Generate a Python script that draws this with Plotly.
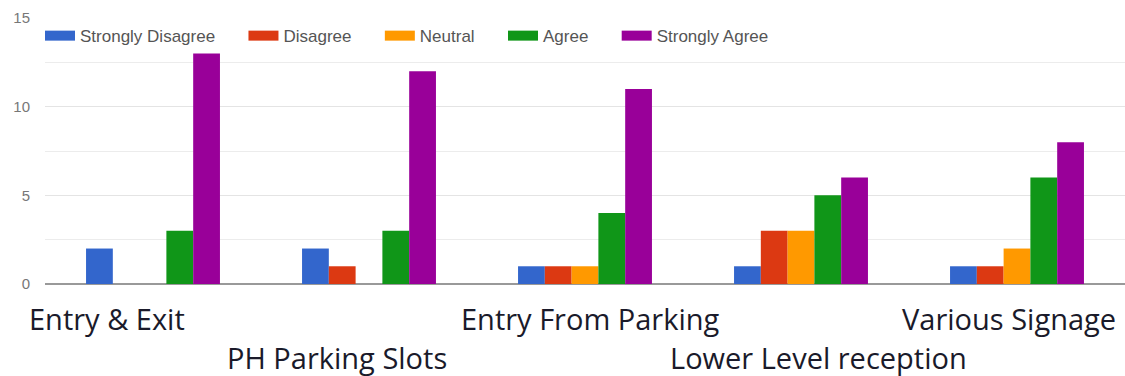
import plotly.graph_objects as go

categories = ["Entry & Exit", "PH Parking Slots", "Entry From Parking",
              "Lower Level reception", "Various Signage"]
series_names = ["Strongly Disagree", "Disagree", "Neutral", "Agree", "Strongly Agree"]
strongly_disagree = [2, 2, 1, 1, 1]
disagree = [0, 1, 1, 3, 1]
neutral = [0, 0, 1, 3, 2]
agree = [3, 3, 4, 5, 6]
strongly_agree = [13, 12, 11, 6, 8]
y_ticks = [0, 5, 10, 15]

colors = ["#3366cc", "#dc3912", "#ff9900", "#109618", "#990099"]
series_values = [strongly_disagree, disagree, neutral, agree, strongly_agree]

# label placement (style): row (0 = upper, 1 = lower) and horizontal shift
label_rows = [0, 1, 0, 1, 0]
label_shifts = [-46, -32, 5, 17, -8]

fig = go.Figure()
for name, vals, col in zip(series_names, series_values, colors):
    fig.add_trace(go.Bar(x=categories, y=vals, name=name, marker_color=col,
                         marker_line_width=0, showlegend=False))
# legend proxies (wide swatches); trailing spaces widen the gap between entries
for name, col in zip(series_names, colors):
    fig.add_trace(go.Scatter(x=[None], y=[None], mode="lines",
                             name=name + "\u00a0" * 6,
                             line=dict(color=col, width=14)))

for cat, row, sh in zip(categories, label_rows, label_shifts):
    fig.add_annotation(x=cat, xref="x", y=-0.128 if row == 0 else -0.278, yref="paper",
                       text=cat, showarrow=False, xshift=sh, yanchor="middle",
                       font=dict(family="Open Sans", size=29, color="#1a1a2a"))

fig.update_layout(
    width=1125, height=376,
    margin=dict(l=45, r=0, t=18, b=92),
    paper_bgcolor="white", plot_bgcolor="white",
    barmode="group", bargap=0.38, bargroupgap=0,
    font=dict(family="Liberation Sans, Arial", color="#555555"),
    legend=dict(orientation="h", x=0, xanchor="left", y=0.932, yanchor="middle",
                font=dict(size=17, color="#555555"), bgcolor="rgba(0,0,0,0)",
                itemwidth=30, tracegroupgap=0, indentation=-5),
    xaxis=dict(type="category", showticklabels=False, showgrid=False, ticks="",
               range=[-0.5, 4.5]),
    yaxis=dict(range=[0, 15], tickvals=y_ticks, showgrid=True, gridcolor="#e4e4e4",
               zeroline=True, zerolinecolor="#999999", zerolinewidth=2,
               tickfont=dict(size=15, color="#777777"),
               minor=dict(dtick=2.5, showgrid=True, gridcolor="#ececec"),
               ticklabelstandoff=14),
)

fig.write_html("out.html")
